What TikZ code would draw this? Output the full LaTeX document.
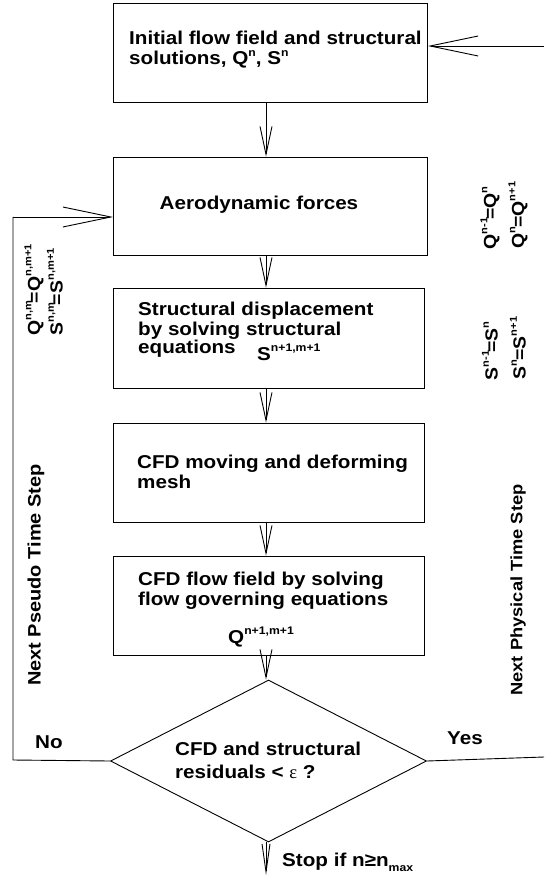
\documentclass[tikz,border=0pt]{standalone}
\usepackage{fontspec}
\setmainfont{Liberation Sans}[FakeStretch=1.11]
\newfontfamily\greekserif{Liberation Serif}
\usetikzlibrary{arrows.meta,shapes.geometric}
% superscripts and subscripts for the box texts
\newcommand\sps[1]{\raisebox{0.45em}{\fontsize{11}{11}\selectfont #1}}
\newcommand\sbs[1]{\raisebox{-0.32em}{\fontsize{11}{11}\selectfont #1}}
% tighter superscripts for the rotated update rules
\newcommand\spr[1]{\raisebox{0.5em}{\fontsize{10}{10}\selectfont #1}}
\begin{document}
\begin{tikzpicture}[x=1pt,y=-1pt,
  every node/.style={font=\fontsize{18.6}{20}\selectfont\bfseries},
  stepbox/.style={draw, line width=0.9pt, rectangle, inner sep=0pt},
  txt/.style={anchor=base west, inner sep=0pt},
  vlabel/.style={rotate=90, inner sep=0pt, anchor=center,
                 font=\fontsize{17.5}{19}\selectfont\bfseries},
  flow/.style={line width=0.9pt},
  vhead/.style={flow, -{Straight Barb[length=28pt,width=12pt,line width=0.9pt]}},
  hhead/.style={flow, -{Straight Barb[length=48pt,width=20pt,line width=0.9pt]}},
  shead/.style={flow, -{Straight Barb[length=28pt,width=8pt,line width=0.9pt]}}]
\useasboundingbox (0,0) rectangle (544,882);

% process boxes
\node[stepbox, minimum width=314pt, minimum height=99pt] (b1) at (270.5,52.5) {};
\node[stepbox, minimum width=314pt, minimum height=98pt] (b2) at (270.5,206) {};
\node[stepbox, minimum width=311pt, minimum height=100pt] (b3) at (268.5,338) {};
\node[stepbox, minimum width=311pt, minimum height=99pt] (b4) at (268.5,472.5) {};
\node[stepbox, minimum width=311pt, minimum height=99pt] (b5) at (268.5,605.5) {};
\node[draw, line width=0.9pt, diamond, inner sep=0pt,
      minimum width=316pt, minimum height=162pt] (dec) at (268.5,761) {};

% box texts, one node per line
\node[txt] (t1a) at (129,45) {Initial flow field and structural};
\node[txt] (t1b) at (129,65) {solutions, Q\sps{n}, S\sps{n}};
\node[anchor=center, inner sep=0pt] (t2) at (259,205) {Aerodynamic forces};
\node[txt] (t3a) at (138,315) {Structural displacement};
\node[txt] (t3b) at (138,335) {by solving structural};
\node[txt] (t3c) at (138,353) {equations};
\node[txt] (t3s) at (257,360) {S\sps{n+1,m+1}};
\node[txt] (t4a) at (137,468) {CFD moving and deforming};
\node[txt] (t4b) at (137,488) {mesh};
\node[txt] (t5a) at (138,585) {CFD flow field by solving};
\node[txt] (t5b) at (138,605) {flow governing equations};
\node[txt] (t5q) at (228,643) {Q\sps{n+1,m+1}};
\node[txt] (tda) at (175,755) {CFD and structural};
\node[txt] (tdb) at (175,778) {residuals < {\greekserif\mdseries ε} ?};

% branch labels
\node[txt] (yes) at (447,744) {Yes};
\node[txt] (no) at (35,748) {No};
\node[txt] (stop) at (282,866) {Stop if n≥n\sbs{max}};

% rotated side labels
\node[vlabel, font=\fontsize{18}{19}\selectfont\bfseries] (pseudo) at (36,575) {Next Pseudo Time Step};
\node[vlabel] (qnm) at (34,290) {Q\spr{n,m}\kern-2pt=Q\spr{n,m+1}};
\node[vlabel] (snm) at (55,292) {S\spr{n,m}\kern-2pt=S\spr{n,m+1}};
\node[vlabel] (qa) at (490,218) {Q\spr{n-1}\kern-2pt=Q\spr{n}};
\node[vlabel] (qb) at (518,215) {Q\spr{n}\kern-1pt=Q\spr{n+1}};
\node[vlabel] (sa) at (490,351) {S\spr{n-1}\kern-2pt=S\spr{n}};
\node[vlabel] (sb) at (518,348) {S\spr{n}\kern-1pt=S\spr{n+1}};
\node[vlabel, font=\fontsize{16.5}{18}\selectfont\bfseries] (phys) at (518,590) {Next Physical Time Step};

% connector helpers
\coordinate (xa) at (266,0);
\coordinate (inR) at (544,46);
\coordinate (outR) at (544,757);
\coordinate (loopB) at (13,760);
\coordinate (loopT) at (13,217);
\coordinate (stopE) at (266,875);

% main chain
\draw[vhead] (b1.south -| xa) -- (b2.north -| xa);
\draw[vhead] (b2.south -| xa) -- (b3.north -| xa);
\draw[vhead] (b3.south -| xa) -- (b4.north -| xa);
\draw[vhead] (b4.south -| xa) -- (b5.north -| xa);
\draw[vhead] (b5.south -| xa) -- (dec.north -| xa);
\draw[shead] (dec.south -| xa) -- (stopE);

% physical time step return
\draw[hhead] (inR) -- (inR -| b1.east);
\draw[flow] (dec.east) -- (outR);

% pseudo time step loop
\draw[flow] (dec.west) -- (loopB) -- (loopT);
\draw[hhead] (loopT) -- (loopT -| b2.west);
\end{tikzpicture}
\end{document}
